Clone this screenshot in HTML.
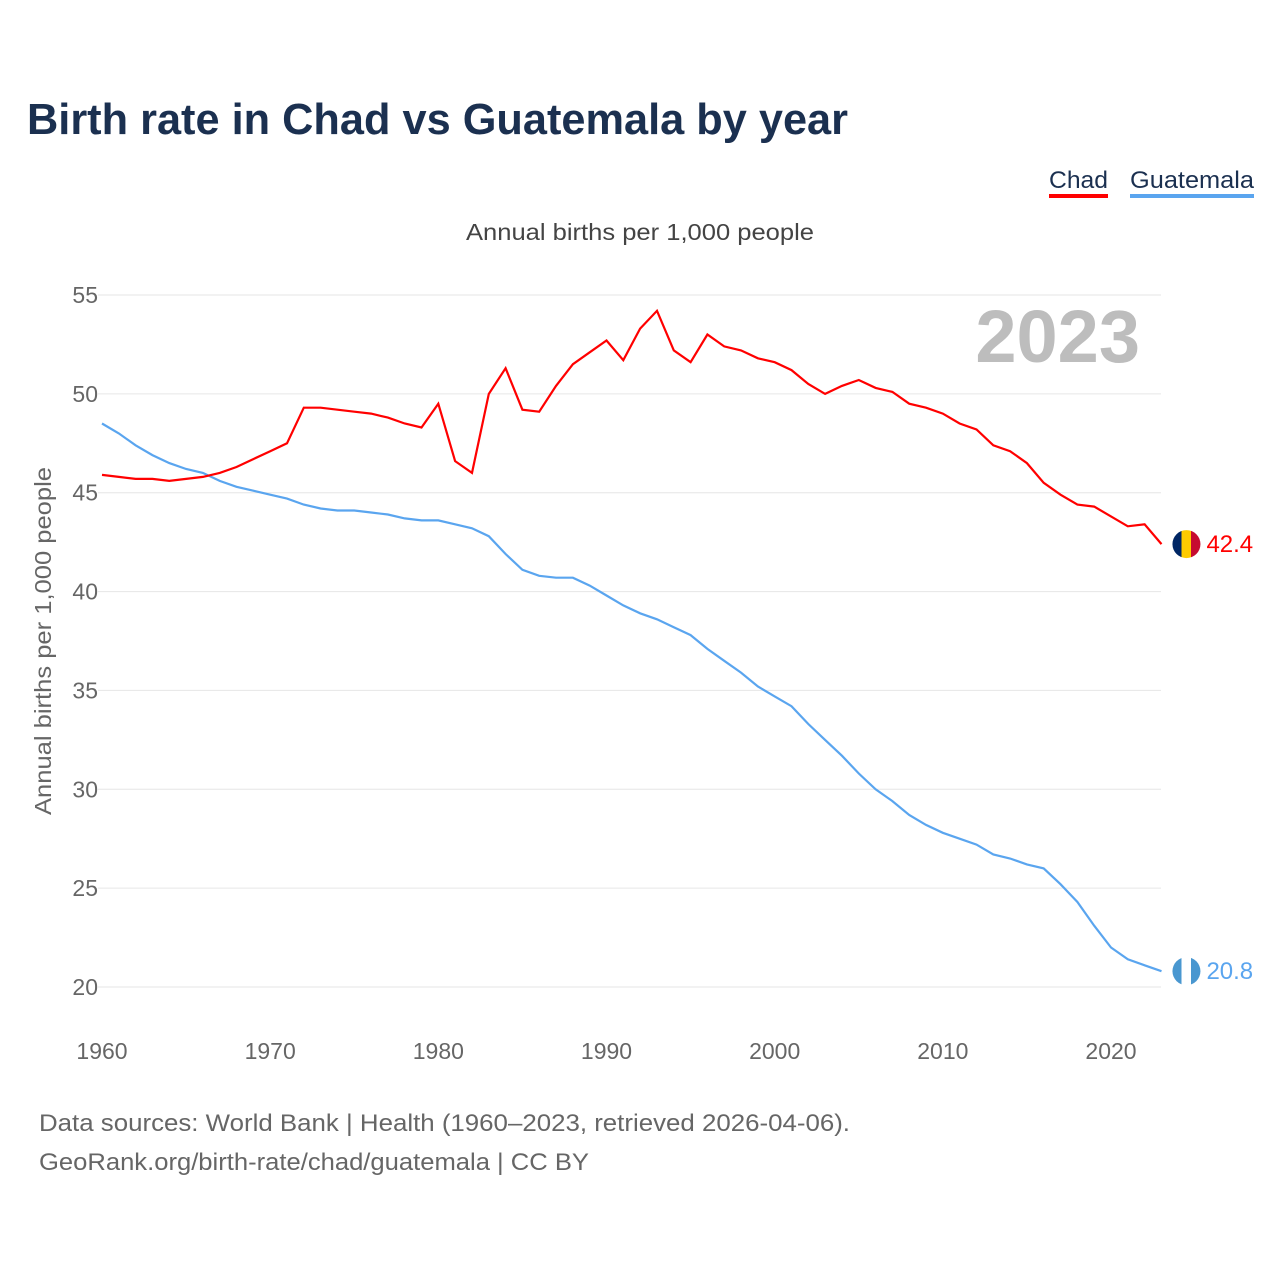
<!DOCTYPE html>
<html><head><meta charset="utf-8">
<style>
html,body{margin:0;padding:0;background:#fff;}
body{width:1280px;height:1280px;position:relative;font-family:"Liberation Sans",sans-serif;overflow:hidden;}
</style></head>
<body>
<svg id="chart" width="1280" height="1280" xmlns="http://www.w3.org/2000/svg" font-family="Liberation Sans, sans-serif">
  <text x="27" y="134" font-size="44" font-weight="bold" fill="#1b3050" textLength="821" lengthAdjust="spacingAndGlyphs">Birth rate in Chad vs Guatemala by year</text>
  <g>
    <text x="1049" y="188" font-size="24" fill="#1b3050" textLength="59" lengthAdjust="spacingAndGlyphs">Chad</text>
    <rect x="1049" y="194" width="59" height="4" fill="#ff0000"/>
    <text x="1130" y="188" font-size="24" fill="#1b3050" textLength="124" lengthAdjust="spacingAndGlyphs">Guatemala</text>
    <rect x="1130" y="194" width="124" height="4" fill="#5aa5ef"/>
  </g>
  <text x="466" y="240" font-size="23" fill="#444" textLength="348" lengthAdjust="spacingAndGlyphs">Annual births per 1,000 people</text>
  <text transform="translate(51,815) rotate(-90)" font-size="23" fill="#666" textLength="348" lengthAdjust="spacingAndGlyphs">Annual births per 1,000 people</text>
  <text x="1140" y="362" font-size="74" font-weight="bold" fill="#bdbdbd" text-anchor="end">2023</text>
  <g id="grid"></g>
  <g id="series"></g>
  <text x="39" y="1131" font-size="24" fill="#666" textLength="811" lengthAdjust="spacingAndGlyphs">Data sources: World Bank | Health (1960–2023, retrieved 2026-04-06).</text>
  <text x="39" y="1170" font-size="24" fill="#666" textLength="550" lengthAdjust="spacingAndGlyphs">GeoRank.org/birth-rate/chad/guatemala | CC BY</text>
</svg>
<script>
const years = [];
for (let y = 1960; y <= 2023; y++) years.push(y);
const chadValues = [45.9,45.8,45.7,45.7,45.6,45.7,45.8,46.0,46.3,46.7,47.1,47.5,49.3,49.3,49.2,49.1,49.0,48.8,48.5,48.3,49.5,46.6,46.0,50.0,51.3,49.2,49.1,50.4,51.5,52.1,52.7,51.7,53.3,54.2,52.2,51.6,53.0,52.4,52.2,51.8,51.6,51.2,50.5,50.0,50.4,50.7,50.3,50.1,49.5,49.3,49.0,48.5,48.2,47.4,47.1,46.5,45.5,44.9,44.4,44.3,43.8,43.3,43.4,42.4];
const guatemalaValues = [48.5,48.0,47.4,46.9,46.5,46.2,46.0,45.6,45.3,45.1,44.9,44.7,44.4,44.2,44.1,44.1,44.0,43.9,43.7,43.6,43.6,43.4,43.2,42.8,41.9,41.1,40.8,40.7,40.7,40.3,39.8,39.3,38.9,38.6,38.2,37.8,37.1,36.5,35.9,35.2,34.7,34.2,33.3,32.5,31.7,30.8,30.0,29.4,28.7,28.2,27.8,27.5,27.2,26.7,26.5,26.2,26.0,25.2,24.3,23.1,22.0,21.4,21.1,20.8];
const yTicks = [20,25,30,35,40,45,50,55];
const xTicks = [1960,1970,1980,1990,2000,2010,2020];

const NS = "http://www.w3.org/2000/svg";
const xScale = yr => 102 + (yr - 1960) * (1009 / 60);
const yScale = v => 987 - (v - 20) * (692 / 35);
const grid = document.getElementById('grid');
const series = document.getElementById('series');

yTicks.forEach(t => {
  const l = document.createElementNS(NS, 'line');
  
  
  l.setAttribute('x1', 98); l.setAttribute('x2', 1161);
  l.setAttribute('y1', yScale(t)); l.setAttribute('y2', yScale(t));
  l.setAttribute('stroke', '#e6e6e6'); l.setAttribute('stroke-width', 1);
  grid.appendChild(l);
  const tx = document.createElementNS(NS, 'text');
  
  
  tx.setAttribute('x', 98); tx.setAttribute('y', yScale(t) + 8);
  tx.setAttribute('font-size', 23); tx.setAttribute('fill', '#666'); tx.setAttribute('text-anchor', 'end');
  tx.textContent = t;
  grid.appendChild(tx);
});
xTicks.forEach(t => {
  const tx = document.createElementNS(NS, 'text');
  
  
  tx.setAttribute('x', xScale(t)); tx.setAttribute('y', 1059);
  tx.setAttribute('font-size', 23); tx.setAttribute('fill', '#666'); tx.setAttribute('text-anchor', 'middle');
  tx.textContent = t;
  grid.appendChild(tx);
});

function drawLine(vals, color, name) {
  const p = document.createElementNS(NS, 'path');
  
  
  p.setAttribute('d', vals.map((v, i) => (i ? 'L' : 'M') + xScale(years[i]).toFixed(1) + ',' + yScale(v).toFixed(1)).join(''));
  p.setAttribute('fill', 'none'); p.setAttribute('stroke', color); p.setAttribute('stroke-width', 2.2);
  series.appendChild(p);
  const last = vals[vals.length - 1];
  const cx = xScale(years[years.length - 1]) + 25, cy = yScale(last);
  const c = document.createElementNS(NS, 'circle');
  
  
  c.setAttribute('cx', cx); c.setAttribute('cy', cy); c.setAttribute('r', 14);
  c.setAttribute('fill', name === 'chad' ? 'url(#chadFlag)' : 'url(#guaFlag)');
  series.appendChild(c);
  const t = document.createElementNS(NS, 'text');
  
  
  t.setAttribute('x', cx + 20); t.setAttribute('y', cy + 8);
  t.setAttribute('font-size', 24); t.setAttribute('fill', color);
  t.textContent = last.toFixed(1);
  series.appendChild(t);
}
const defs = document.createElementNS(NS, 'defs');
defs.innerHTML = '<linearGradient id="chadFlag"><stop offset="0" stop-color="#002664"/><stop offset="0.33" stop-color="#002664"/><stop offset="0.33" stop-color="#fecb00"/><stop offset="0.67" stop-color="#fecb00"/><stop offset="0.67" stop-color="#c60c30"/><stop offset="1" stop-color="#c60c30"/></linearGradient>' +
  '<linearGradient id="guaFlag"><stop offset="0" stop-color="#4997d0"/><stop offset="0.33" stop-color="#4997d0"/><stop offset="0.33" stop-color="#fff"/><stop offset="0.67" stop-color="#fff"/><stop offset="0.67" stop-color="#4997d0"/><stop offset="1" stop-color="#4997d0"/></linearGradient>';
document.getElementById('chart').appendChild(defs);
drawLine(guatemalaValues, '#5aa5ef', 'guatemala');
drawLine(chadValues, '#ff0000', 'chad');
</script>
</body></html>
